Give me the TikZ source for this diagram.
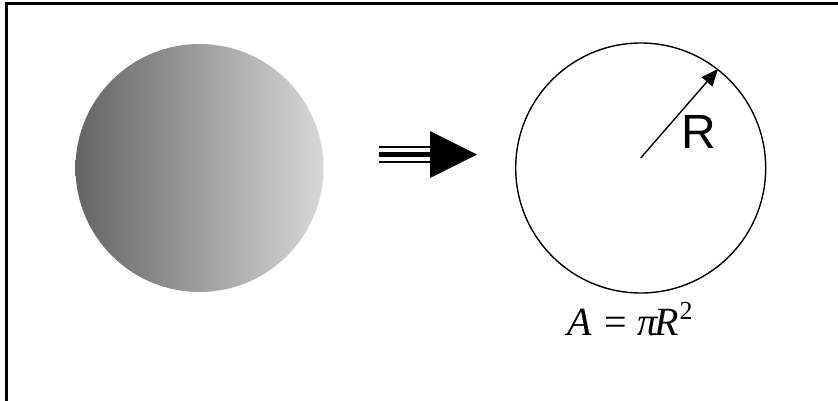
\documentclass[tikz,border=0pt]{standalone}
\usepackage{fontspec}
\setmainfont{Liberation Serif}
\newfontfamily\arialfont{Liberation Sans}
\usetikzlibrary{arrows.meta,calc}
\definecolor{shadeL}{RGB}{100,100,100}
\definecolor{shadeR}{RGB}{216,216,216}
\begin{document}
\begin{tikzpicture}[x=1pt,y=-1pt,
  framestyle/.style={line width=3pt},
  ringstyle/.style={circle, draw, line width=1.4pt, minimum size=250pt, inner sep=0pt},
  ballstyle/.style={circle, draw=none, minimum size=248pt, inner sep=0pt, left color=shadeL, right color=shadeR},
  radstyle/.style={line width=1.4pt, -{Triangle[length=17pt,width=14pt]}}
]
\useasboundingbox (0,0) rectangle (838,400);
% frame (only left and top visible)
\coordinate (fbl) at (6.5,402);
\coordinate (ftl) at (6.5,3);
\coordinate (ftr) at (840,3);
\draw[framestyle] (fbl) -- (ftl) -- (ftr);
% shaded ball
\node[ballstyle] (ball) at (199.5,168) {};
% implication arrow
\coordinate (a1s) at (379,147); \coordinate (a1e) at (431,147);
\coordinate (a2s) at (379,154.5); \coordinate (a2e) at (431,154.5);
\coordinate (a3s) at (379,162); \coordinate (a3e) at (431,162);
\draw[line width=2pt] (a1s) -- (a1e);
\draw[line width=5pt] (a2s) -- (a2e);
\draw[line width=2pt] (a3s) -- (a3e);
\coordinate (ht) at (430,131); \coordinate (hp) at (477,154.5); \coordinate (hb) at (430,178);
\fill (ht) -- (hp) -- (hb) -- cycle;
% ring
\node[ringstyle] (ring) at (640.7,168) {};
\coordinate (rstart) at ($(ring.center)+(0,-10)$);
\draw[radstyle] (rstart) -- (ring.52);
\node[font=\arialfont\fontsize{48}{52}\selectfont, inner sep=0pt] (rlab) at (699,131.5) {R};
% formula
\node[anchor=base west, inner sep=0pt, font=\fontsize{40}{44}\selectfont] (area) at (567,335)
  {\textit{A}\kern3pt{} = \textit{π}\kern-4pt\textit{R}\kern1pt\raisebox{16pt}{\fontsize{26}{26}\selectfont 2}};
\end{tikzpicture}
\end{document}
